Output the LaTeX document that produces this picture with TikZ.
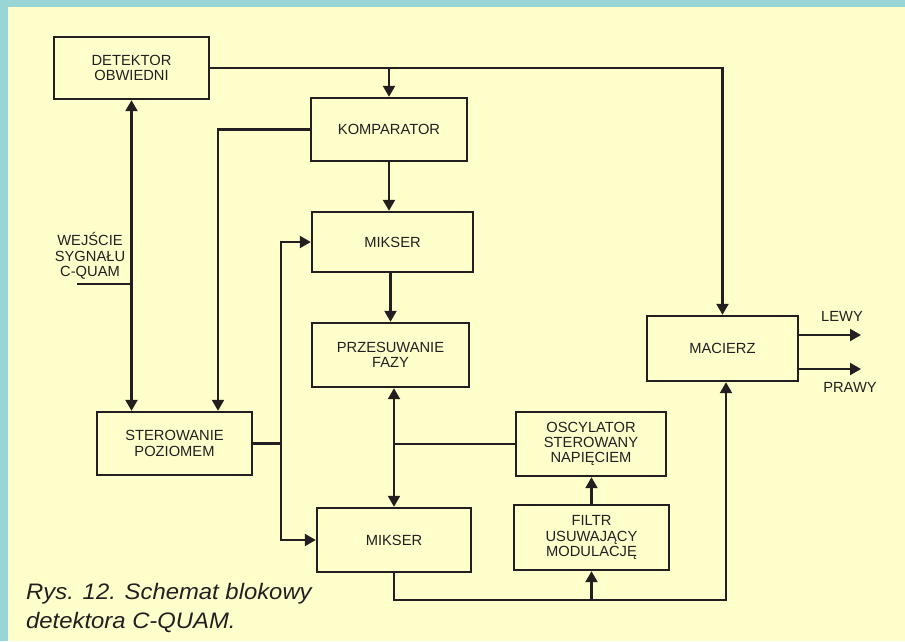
\documentclass[tikz,border=0pt]{standalone}
\usepackage{fontspec}
\setmainfont{Liberation Sans}
\newfontfamily\capfont{Liberation Sans}[FakeStretch=1.065]
\usetikzlibrary{arrows.meta}
\definecolor{bg}{HTML}{FFFFCC}
\definecolor{strip}{HTML}{99D5D5}
\definecolor{ink}{HTML}{231F20}
\begin{document}
\begin{tikzpicture}[x=1pt,y=-1pt,
 box/.style={draw=ink, line width=2.4pt, inner sep=0pt, align=center, text=ink, font=\fontsize{14.7}{15.2}\selectfont},
 wire/.style={draw=ink, line width=2.2pt},
 arr/.style={wire, -{Triangle[length=11pt,width=12pt]}},
 arrs/.style={wire, {Triangle[length=11pt,width=12pt]}-{Triangle[length=11pt,width=12pt]}},
 lbl/.style={text=ink, align=center, inner sep=0pt, font=\fontsize{14.7}{15.5}\selectfont},
 captext/.style={text=ink, inner sep=0pt, anchor=base west, font=\fontsize{22.4}{29}\capfont\itshape}]
\fill[bg] (0,0) rectangle (905,641);
\fill[strip] (0,0) rectangle (905,7);
\fill[strip] (0,0) rectangle (8,641);
\useasboundingbox (0,0) rectangle (905,641);

\node[box, minimum width=155pt, minimum height=62pt] (det) at (131.5,68) {DETEKTOR\\OBWIEDNI};
\node[box, minimum width=156pt, minimum height=63pt] (komp) at (389,129.5) {KOMPARATOR};
\node[box, minimum width=161pt, minimum height=60pt] (mik1) at (392.5,242) {MIKSER};
\node[box, minimum width=157pt, minimum height=64pt] (prz) at (390.5,355) {PRZESUWANIE\\FAZY};
\node[box, minimum width=155pt, minimum height=63pt] (ster) at (174.5,443.5) {STEROWANIE\\POZIOMEM};
\node[box, minimum width=150pt, minimum height=64pt] (osc) at (591,444) {OSCYLATOR\\STEROWANY\\NAPIĘCIEM};
\node[box, minimum width=155pt, minimum height=65pt] (filtr) at (591.5,537.5) {FILTR\\USUWAJĄCY\\MODULACJĘ};
\node[box, minimum width=154pt, minimum height=64pt] (mik2) at (394,540) {MIKSER};
\node[box, minimum width=151pt, minimum height=65pt] (mac) at (722.5,348.5) {MACIERZ};

\node[lbl] (wej) at (90,256) {WEJŚCIE\\SYGNAŁU\\C-QUAM};
\node[lbl] (lewy) at (842,316) {LEWY};
\node[lbl] (prawy) at (850,387) {PRAWY};
\node[captext] (cap1) at (26,599) {Rys. 12. Schemat blokowy};
\node[captext] (cap2) at (26,628) {detektora C-QUAM.};

\coordinate (in) at (77,284);
\coordinate (j) at (281,443.5);
\coordinate (bot) at (394,600);
\coordinate (ol) at (861,335);
\coordinate (op) at (861,369);

\draw[arr] (det.east) -| (mac.north);
\draw[arr] (komp.north |- det.east) -- (komp.north);
\draw[arr] (komp.west) -| ([xshift=43.5pt]ster.north);
\draw[arrs] (det.south) -- (det.south |- ster.north);
\draw[wire] (in) -- (det.south |- in);
\draw[arr] (komp.south) -- (komp.south |- mik1.north);
\draw[wire] (ster.east) -- (j);
\draw[arr] (j) |- (mik1.west);
\draw[arr] (j) |- (mik2.west);
\draw[arr] (prz.north |- mik1.south) -- (prz.north);
\draw[arrs] (mik2.north |- prz.south) -- (mik2.north);
\draw[wire] (osc.west) -- (osc.west -| mik2.north);
\draw[arr] (filtr.north) -- (filtr.north |- osc.south);
\draw[arr] (mik2.south) -- (bot) -| ([xshift=3.5pt]mac.south);
\draw[arr] (filtr.south |- bot) -- (filtr.south);
\draw[arr] (mac.east |- ol) -- (ol);
\draw[arr] (mac.east |- op) -- (op);
\end{tikzpicture}
\end{document}
